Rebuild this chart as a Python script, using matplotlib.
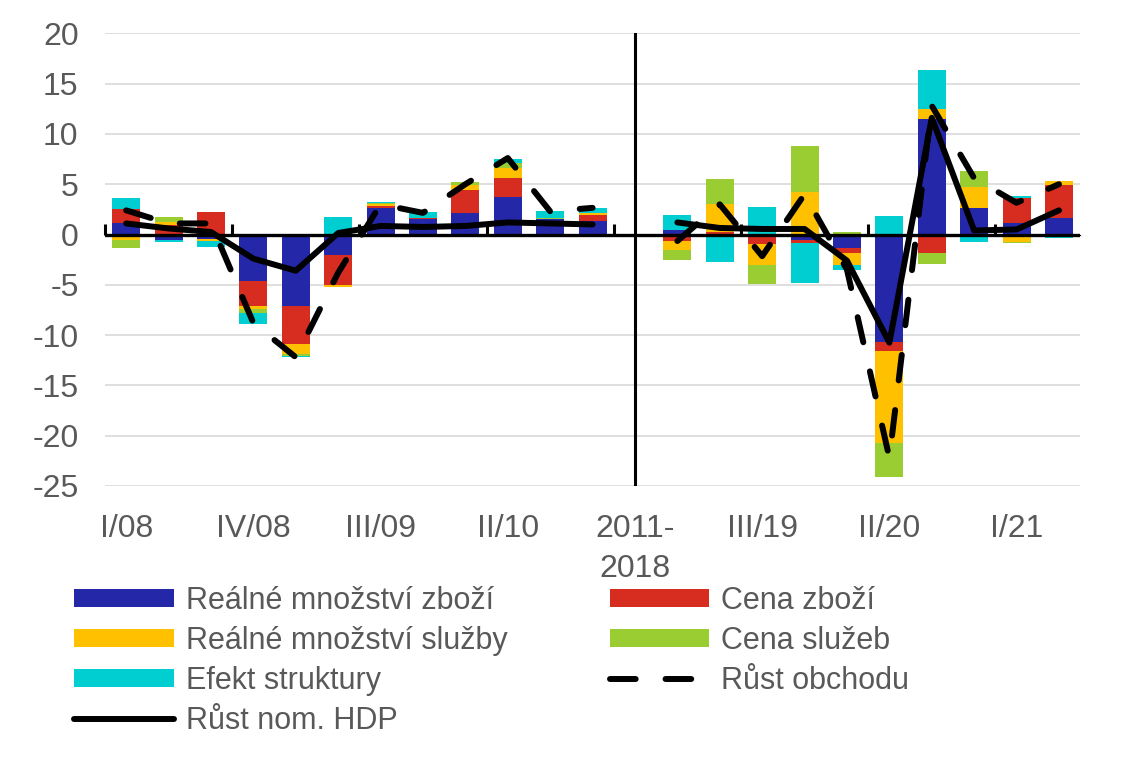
# -*- coding: utf-8 -*-
# Rozklad rustu obchodu - stacked bars + lines
import numpy as np
import matplotlib
matplotlib.use('Agg')
import matplotlib.pyplot as plt
from matplotlib.patches import Patch
from matplotlib.lines import Line2D

plt.rcParams['font.family'] = ['Liberation Sans', 'DejaVu Sans']
plt.rcParams['axes.unicode_minus'] = False

#%% data, index 12 = "2011-2018" gap
quarters = ['I/08', 'II/08', 'III/08', 'IV/08', 'I/09', 'II/09', 'III/09', 'IV/09',
            'I/10', 'II/10', 'III/10', 'IV/10', '2011-\n2018',
            'I/19', 'II/19', 'III/19', 'IV/19', 'I/20', 'II/20', 'III/20', 'IV/20',
            'I/21', 'II/21']

real_zbozi = [1.1, -0.5, -0.45, -4.6, -7.1, -2.0, 2.65, 1.5, 2.1, 3.7, 1.5, 1.3, np.nan,
              0.4, 0.0, -0.25, -0.55, -1.35, -10.65, 11.5, 2.6, 1.15, 1.65]
cena_zbozi = [1.45, 0.95, 2.25, -2.5, -3.8, -3.0, 0.2, 0.15, 2.35, 1.9, 0.0, 0.6, np.nan,
              -0.6, 0.25, -0.65, -0.25, -0.45, -0.95, -1.8, -0.15, 2.5, 3.25]
real_sluzby = [-0.55, 0.25, -0.2, -0.3, -1.0, -0.25, 0.15, 0.0, 0.5, 1.0, 0.0, 0.25, np.nan,
               -0.9, 2.8, -2.1, 4.2, -1.2, -9.1, 1.0, 2.15, -0.7, 0.45]
cena_sluzeb = [-0.75, 0.5, 0.0, -0.4, -0.15, 0.0, 0.12, 0.0, 0.3, 0.55, 0.1, 0.0, np.nan,
               -1.0, 2.5, -1.9, 4.55, 0.2, -3.4, -1.15, 1.55, -0.1, 0.0]
efekt_struktury = [1.1, -0.2, -0.55, -1.05, -0.15, 1.75, 0.1, 0.6, 0.0, 0.35, 0.75, 0.5, np.nan,
                   1.5, -2.7, 2.7, -4.05, -0.55, 1.8, 3.9, -0.6, 0.2, -0.35]

rust_obchodu = [2.4, 1.1, 1.1, -8.8, -12.2, -3.8, 3.0, 2.15, 5.0, 7.6, 2.3, 2.65, np.nan,
                -0.65, 3.0, -2.15, 4.0, -3.5, -22.2, 12.8, 5.6, 3.15, 5.0]
rust_hdp = [1.1, 0.6, 0.25, -2.4, -3.6, 0.15, 0.85, 0.75, 0.85, 1.2, 1.1, 1.0, np.nan,
            1.2, 0.65, 0.55, 0.55, -2.6, -10.75, 11.6, 0.4, 0.5, 2.4]

series = [('Reálné množství zboží', real_zbozi, '#2427A8'),
          ('Cena zboží', cena_zbozi, '#D62D20'),
          ('Reálné množství služby', real_sluzby, '#FFC000'),
          ('Cena služeb', cena_sluzeb, '#9ACD32'),
          ('Efekt struktury', efekt_struktury, '#00CED1')]

txtc = '#595959'
dash = (0, (4.3, 5.0))

#%% figure
fig = plt.figure(figsize=(11.24, 7.57), dpi=100)
ax = fig.add_axes([0.0934, 0.358, 0.8676, 0.598])

x = np.arange(len(quarters))
pos_bottom = np.zeros(len(x))
neg_bottom = np.zeros(len(x))
for name, vals, col in series:
    v = np.nan_to_num(np.asarray(vals, dtype=float))
    bottom = np.where(v >= 0, pos_bottom, neg_bottom)
    ax.bar(x, v, width=0.66, bottom=bottom, color=col, label=name, zorder=2)
    pos_bottom = pos_bottom + np.where(v > 0, v, 0)
    neg_bottom = neg_bottom + np.where(v < 0, v, 0)

ax.plot(x, rust_obchodu, color='black', lw=4.3, ls=dash,
        dash_capstyle='round', zorder=4)
ax.plot(x, rust_hdp, color='black', lw=4.3, solid_capstyle='round',
        solid_joinstyle='round', zorder=5)

# zero line and separator for the 2011-2018 gap
ax.axhline(0, color='black', lw=2.4, zorder=3)
ax.axvline(12, color='black', lw=2.2, zorder=3)

ax.set_xlim(-0.5, len(x) - 0.5)
ax.set_ylim(-25, 20)
ax.set_yticks(np.arange(-25, 21, 5))
ax.yaxis.grid(True, color='#D9D9D9', lw=1.2, zorder=0)
ax.set_axisbelow(True)
for s in ax.spines.values():
    s.set_visible(False)

ax.set_xticks(x[::3])
ax.set_xticklabels(quarters[::3], linespacing=1.45)
ax.tick_params(axis='x', length=0, pad=20, labelsize=23, labelcolor=txtc)
ax.tick_params(axis='y', length=0, pad=19, labelsize=23, labelcolor=txtc)

# category tick marks hanging from the zero line
zax = ax.secondary_xaxis(25 / 45)
zax.spines['bottom'].set_visible(False)
zax.set_xticks(np.arange(-0.5, len(x) - 0.5, 3))
zax.set_xticklabels([])
zax.tick_params(axis='x', length=8, width=2.2, direction='out', color='black')

#%% legend
h = {name: Patch(facecolor=col, edgecolor='none') for name, _, col in series}
h_obchod = Line2D([], [], color='black', lw=4.3, ls=dash, dash_capstyle='round')
h_hdp = Line2D([], [], color='black', lw=4.3, solid_capstyle='round')
handles = [h['Reálné množství zboží'], h['Reálné množství služby'], h['Efekt struktury'], h_hdp,
           h['Cena zboží'], h['Cena služeb'], h_obchod]
labels = ['Reálné množství zboží', 'Reálné množství služby', 'Efekt struktury', 'Růst nom. HDP',
          'Cena zboží', 'Cena služeb', 'Růst obchodu']
leg = fig.legend(handles, labels, ncol=2, loc='upper left',
                 bbox_to_anchor=(0.055, 0.242), frameon=False,
                 fontsize=22, handlelength=3.27, handleheight=0.52,
                 handletextpad=0.38, labelspacing=0.33, columnspacing=3.35,
                 borderaxespad=0)
for t in leg.get_texts():
    t.set_color(txtc)

fig.savefig('out.png', dpi=100)
